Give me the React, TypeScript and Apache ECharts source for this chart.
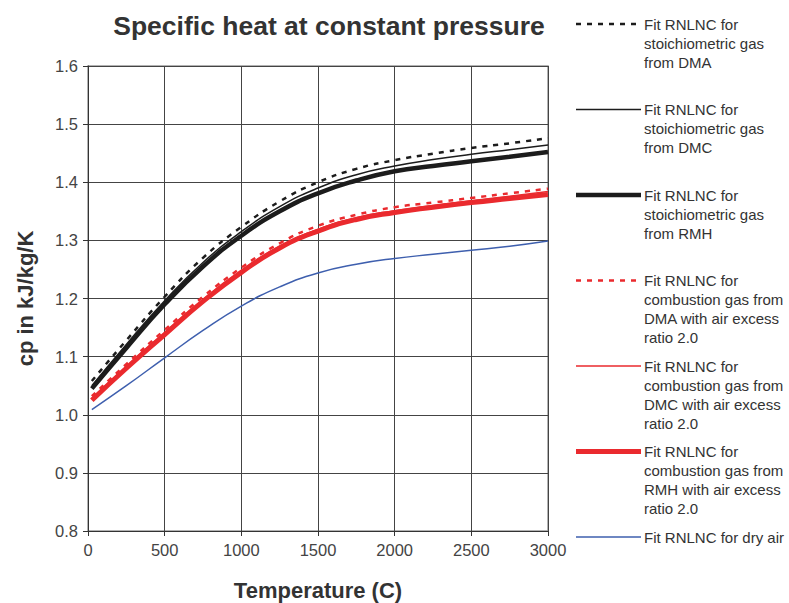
import React, { useEffect, useRef } from "react";
import * as echarts from "echarts";

const temps = [25, 250, 500, 750, 1000, 1250, 1500, 1750, 2000, 2250, 2500, 2750, 3000];

const stoichDMA = [1.058, 1.128, 1.203, 1.27, 1.323, 1.367, 1.4, 1.423, 1.438, 1.449, 1.459, 1.467, 1.476];
const stoichDMC = [1.05, 1.121, 1.196, 1.262, 1.315, 1.358, 1.39, 1.413, 1.428, 1.439, 1.448, 1.456, 1.464];
const stoichRMH = [1.045, 1.115, 1.19, 1.255, 1.308, 1.35, 1.381, 1.403, 1.419, 1.428, 1.436, 1.444, 1.452];
const combDMA = [1.032, 1.087, 1.146, 1.203, 1.253, 1.295, 1.325, 1.344, 1.357, 1.365, 1.373, 1.381, 1.389];
const combDMC = [1.028, 1.083, 1.141, 1.198, 1.248, 1.29, 1.319, 1.339, 1.351, 1.36, 1.368, 1.376, 1.384];
const combRMH = [1.025, 1.08, 1.138, 1.195, 1.245, 1.287, 1.316, 1.336, 1.348, 1.357, 1.365, 1.372, 1.379];
const dryAir = [1.009, 1.05, 1.098, 1.145, 1.187, 1.22, 1.244, 1.259, 1.269, 1.276, 1.283, 1.29, 1.299];

const seriesNames = [
  "Fit RNLNC for\nstoichiometric gas\nfrom DMA",
  "Fit RNLNC for\nstoichiometric gas\nfrom DMC",
  "Fit RNLNC for\nstoichiometric gas\nfrom RMH",
  "Fit RNLNC for\ncombustion gas from\nDMA with air excess\nratio 2.0",
  "Fit RNLNC for\ncombustion gas from\nDMC with air excess\nratio 2.0",
  "Fit RNLNC for\ncombustion gas from\nRMH with air excess\nratio 2.0",
  "Fit RNLNC for dry air",
];
const seriesData = [stoichDMA, stoichDMC, stoichRMH, combDMA, combDMC, combRMH, dryAir];

const BLACK = "#1c1c1c";
const RED = "#ea2a2e";
const BLUE = "#3e5fae";
const styles = [
  { color: BLACK, width: 2.5, dash: [5, 6] as any },
  { color: BLACK, width: 1.5, dash: "solid" as any },
  { color: BLACK, width: 4.5, dash: "solid" as any },
  { color: RED, width: 2.5, dash: [5, 6] as any },
  { color: RED, width: 1.5, dash: "solid" as any },
  { color: RED, width: 5, dash: "solid" as any },
  { color: BLUE, width: 1.5, dash: "solid" as any },
];
const drawOrder = [6, 5, 4, 3, 2, 1, 0];

export default function App() {
  const ref = useRef<HTMLDivElement>(null);
  useEffect(() => {
    if (!ref.current) return;
    const chart = echarts.init(ref.current, null, { renderer: "svg" });
    const font = "'Liberation Sans', Arial, sans-serif";
    const legendGraphics: any[] = [];
    seriesNames.forEach((name, i) => {
      const yc = 24 + i * 85.5;
      const s = styles[i];
      legendGraphics.push({
        type: "line",
        shape: { x1: 576, y1: yc, x2: 641, y2: yc },
        style: { stroke: s.color, lineWidth: s.width, lineDash: s.dash === "solid" ? null : s.dash },
      });
      legendGraphics.push({
        type: "text",
        x: 644,
        y: yc - 9.5,
        style: {
          text: name,
          font: `15px ${font}`,
          fill: "#333",
          lineHeight: 19,
          verticalAlign: "top",
          textAlign: "left",
        },
      });
    });

    chart.setOption({
      animation: false,
      backgroundColor: "#fff",
      title: {
        text: "Specific heat at constant pressure",
        left: 324,
        top: 7,
        textAlign: "center",
        textStyle: { fontFamily: font, fontSize: 26.5, fontWeight: "bold", color: "#333" },
      },
      grid: {
        left: 88,
        right: 241,
        top: 66,
        bottom: 72,
        show: true,
        borderColor: "#999",
        borderWidth: 1.5,
        outerBoundsMode: "none",
        containLabel: false,
      },
      xAxis: {
        type: "value",
        min: 0,
        max: 3000,
        interval: 500,
        name: "Temperature (C)",
        nameLocation: "middle",
        nameGap: 48,
        nameTextStyle: { fontFamily: font, fontSize: 22, fontWeight: "bold", color: "#333" },
        axisLine: { show: true, lineStyle: { color: "#333", width: 1 } },
        axisTick: { show: true, length: 5, lineStyle: { color: "#333" } },
        axisLabel: {
          fontFamily: font,
          fontSize: 16.5,
          color: "#444",
          margin: 10,
          formatter: (v: number) => String(v),
        },
        splitLine: { show: true, lineStyle: { color: "#444", width: 1 } },
      },
      yAxis: {
        type: "value",
        min: 0.8,
        max: 1.6,
        interval: 0.1,
        name: "cp in kJ/kg/K",
        nameLocation: "middle",
        nameGap: 52,
        nameTextStyle: { fontFamily: font, fontSize: 22, fontWeight: "bold", color: "#333" },
        axisLine: { show: true, lineStyle: { color: "#333", width: 1 } },
        axisTick: { show: true, length: 5, lineStyle: { color: "#333" } },
        axisLabel: {
          fontFamily: font,
          fontSize: 16.5,
          color: "#444",
          margin: 10,
          formatter: (v: number) => v.toFixed(1),
        },
        splitLine: { show: true, lineStyle: { color: "#444", width: 1 } },
      },
      series: drawOrder.map((i) => ({
        type: "line",
        name: seriesNames[i],
        data: temps.map((t, k) => [t, seriesData[i][k]]),
        smooth: true,
        showSymbol: false,
        lineStyle: { color: styles[i].color, width: styles[i].width, type: styles[i].dash },
      })),
      graphic: legendGraphics,
    });
    return () => chart.dispose();
  }, []);
  return (
    <div
      ref={ref}
      style={{ position: "fixed", left: 0, top: 0, width: 789, height: 603 }}
    />
  );
}
